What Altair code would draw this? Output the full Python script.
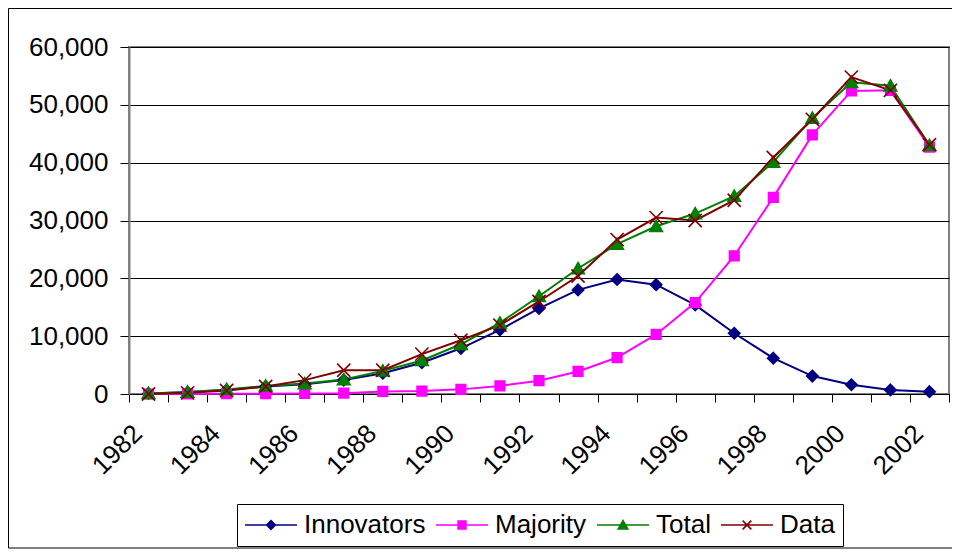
import altair as alt
import pandas as pd

years = list(range(1982, 2003))
innovators = [100, 300, 700, 1300, 1700, 2400, 3600, 5400, 7900, 11100, 14800,
              18000, 19800, 18900, 15400, 10500, 6200, 3100, 1600, 700, 400]
majority = [0, 0, 50, 50, 100, 150, 450, 500, 800, 1400, 2300,
            3900, 6300, 10300, 15800, 23900, 34000, 44800, 52400, 52500, 42700]
total = [100, 350, 800, 1400, 1800, 2500, 4000, 5800, 8600, 12300, 16900,
         21700, 25900, 29000, 31200, 34200, 40100, 47700, 53900, 53300, 43000]
data_vals = [0, 200, 600, 1300, 2400, 4100, 4100, 6900, 9300, 11900, 16000,
             20400, 26700, 30500, 30000, 33500, 40900, 47500, 54800, 52500, 43100]

series_names = ["Innovators", "Majority", "Total", "Data"]
series_colors = ["#000080", "#FF00FF", "#008000", "#800000"]
marker_paths = [
    "M0,-0.95L0.95,0L0,0.95L-0.95,0Z",
    "M-0.8,-0.8L0.8,-0.8L0.8,0.8L-0.8,0.8Z",
    "M0,-1L1.05,0.85L-1.05,0.85Z",
    "M-1.1,-1.1L1.1,1.1M-1.1,1.1L1.1,-1.1",
]
legend_paths = [
    "M-6,0L6,0M0,-1L1,0L0,1L-1,0Z",
    "M-6,0L6,0M-0.9,-0.9L0.9,-0.9L0.9,0.9L-0.9,0.9Z",
    "M-6,0L6,0M0,-1L1.1,0.9L-1.1,0.9Z",
    "M-6,0L6,0M-1,-1L1,1M-1,1L1,-1",
]

rows = []
for name, vals in zip(series_names, [innovators, majority, total, data_vals]):
    for y, v in zip(years, vals):
        rows.append({"year": y, "series": name, "value": v})
df = pd.DataFrame(rows)
legend_df = pd.DataFrame({"series": series_names})

W, H = 820, 347

def cscale():
    return alt.Scale(domain=series_names, range=series_colors)

x_enc = alt.X(
    "year:O",
    bandPosition=0.5,
    scale=alt.Scale(type="band", paddingInner=0, paddingOuter=0),
    axis=alt.Axis(
        title=None,
        tickBand="extent",
        labelExpr="datum.value % 2 == 0 ? datum.label : ''",
        labelAngle=-45,
        labelAlign="right",
        labelBaseline="middle",
        labelFontSize=26,
        labelPadding=27,
        labelOffset=-11,
        labelColor="black",
        tickSize=8,
        tickColor="black",
        domainColor="black",
        domainWidth=1,
        grid=False,
    ),
)
y_enc = alt.Y(
    "value:Q",
    scale=alt.Scale(domain=[0, 60000], nice=False),
    axis=alt.Axis(
        title=None,
        values=[0, 10000, 20000, 30000, 40000, 50000, 60000],
        format=",.0f",
        labelFontSize=26,
        labelColor="black",
        labelPadding=12,
        tickSize=9,
        tickColor="black",
        domainColor="#808080",
        domainWidth=2,
        grid=True,
        gridColor="black",
        gridWidth=1,
    ),
)

frame = alt.Chart(alt.Data(values=[{"a": 1}])).mark_rect(
    fillOpacity=0, stroke="black", strokeWidth=1
).encode(
    x=alt.value(-120.5), x2=alt.value(W + 40),
    y=alt.value(-38.5), y2=alt.value(H + 154)
)

base = alt.Chart(df)

lines = base.mark_line(strokeWidth=2).encode(
    x=x_enc,
    y=y_enc,
    color=alt.Color("series:N", scale=cscale(), sort=series_names, legend=None),
    detail="series:N",
)

points = base.mark_point(filled=True, size=144, strokeWidth=1.6, opacity=1).encode(
    x=x_enc,
    y=y_enc,
    color=alt.Color("series:N", scale=cscale(), sort=series_names, legend=None),
    shape=alt.Shape("series:N", scale=alt.Scale(domain=series_names, range=marker_paths),
                    legend=None),
    stroke=alt.Stroke("series:N", scale=cscale(), legend=None),
)

legend_spec = alt.Legend(
    title=None,
    orient="none",
    legendX=108,
    legendY=457,
    direction="horizontal",
    columns=4,
    labelFontSize=26,
    labelColor="black",
    symbolSize=75,
    symbolOffset=13,
    labelOffset=20,
    columnPadding=6,
    padding=8,
    strokeColor="black",
    fillColor="white",
    symbolStrokeWidth=1.6,
    symbolOpacity=1,
)

legend_layer = alt.Chart(legend_df).mark_point(filled=True, size=0, opacity=0).encode(
    color=alt.Color("series:N", scale=cscale(), sort=series_names, legend=legend_spec),
    shape=alt.Shape("series:N", scale=alt.Scale(domain=series_names, range=legend_paths),
                    sort=series_names, legend=legend_spec),
    stroke=alt.Stroke("series:N", scale=cscale(), sort=series_names, legend=legend_spec),
)

chart = alt.layer(frame, lines, points, legend_layer).resolve_scale(
    shape="independent", color="independent", stroke="independent"
).properties(
    width=W,
    height=H,
    padding={"left": 121, "top": 39, "right": 3, "bottom": 156},
    autosize=alt.AutoSizeParams(type="none"),
).configure(
    font="Liberation Sans",
).configure_view(
    stroke="#808080", strokeWidth=2
)

chart.save("out.html", embed_options={"renderer": "svg", "actions": False})
